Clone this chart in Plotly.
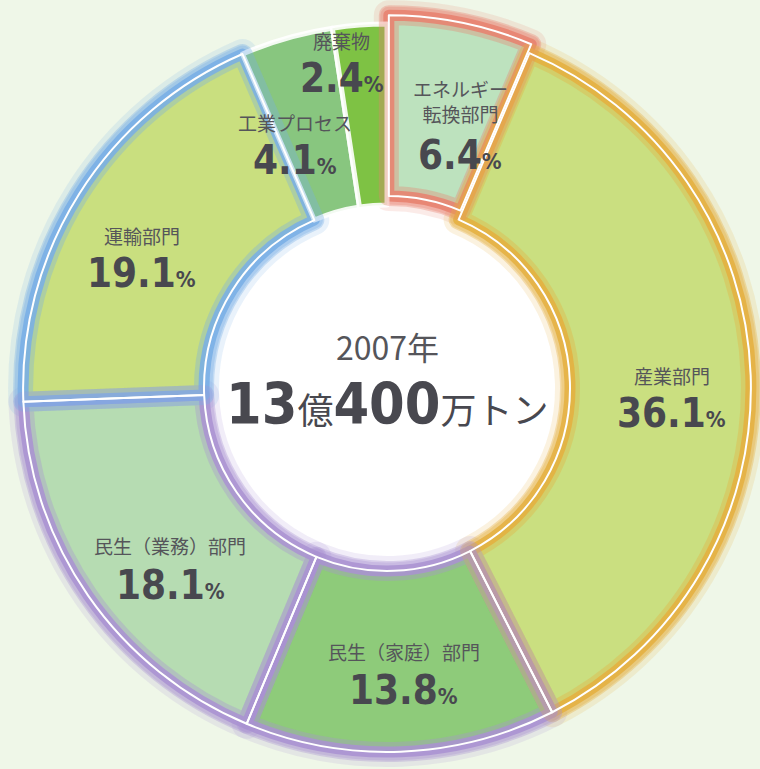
import math
import plotly.graph_objects as go

# ---------------- data ----------------
sectors = ["エネルギー転換部門", "産業部門", "民生（家庭）部門", "民生（業務）部門",
           "運輸部門", "工業プロセス", "廃棄物"]
sector_labels = ["エネルギー<br>転換部門", "産業部門", "民生（家庭）部門", "民生（業務）部門",
                 "運輸部門", "工業プロセス", "廃棄物"]
shares = [6.4, 36.1, 13.8, 18.1, 19.1, 4.1, 2.4]
year_text = "2007年"
total_parts = ["13", "億", "400", "万トン"]

# ---------------- style ----------------
W, H = 760, 769
CX, CY = 387, 388          # pie centre in pixels (from top-left)
HALF = 373                 # domain half-size in px
PULL = [0.025, 0, 0, 0, 0, 0, 0]
R = HALF / (1 + max(PULL))
HOLE_PX = 183

fills = ["#bde2be", "#cadf80", "#8ecb7a", "#b6dcb2", "#c9df7f", "#88c67f", "#7ec244"]
glow_rgb = [(233, 128, 111), (228, 176, 63), (170, 146, 210), (170, 146, 210),
            (120, 174, 230), None, None]
bg = "#eff7e8"
num_font = "Liberation Sans Narrow, DejaVu Sans Condensed, Arial Narrow, sans-serif"
jp_font = "Noto Sans CJK JP, sans-serif"
text_col = "#55555a"
num_col = "#48484f"

# label placement (polar, relative to slice mid-angle)
label_r = [244, 286, 302, 293, 271, 246, 313]
label_dang = [6, 7, -1, -7.5, -7, -6, -4]
name_shift = [54, 38, 38, 39, 37, 37, 38]


def rgba(c, a):
    if c is None:
        return "rgba(255,255,255,0)"
    return "rgba(%d,%d,%d,%.2f)" % (c[0], c[1], c[2], a)


dom_x = [(CX - HALF) / W, min(1.0, (CX + HALF) / W)]
dom_y = [((H - CY) - HALF) / H, ((H - CY) + HALF) / H]
hole = HOLE_PX / R

fig = go.Figure()

# white centre disc (under the ring)
disc_r = HOLE_PX + 4
fig.add_trace(go.Pie(
    values=[1], marker=dict(colors=["#ffffff"], line=dict(width=0)),
    domain=dict(x=[(CX - disc_r) / W, (CX + disc_r) / W],
                y=[((H - CY) - disc_r) / H, ((H - CY) + disc_r) / H]),
    textinfo="none", hoverinfo="skip", sort=False, showlegend=False))


def ring(colors, line_colors, line_widths):
    fig.add_trace(go.Pie(
        labels=sectors, values=shares, sort=False, direction="clockwise", rotation=0,
        hole=hole, pull=PULL, domain=dict(x=dom_x, y=dom_y),
        marker=dict(colors=colors, line=dict(color=line_colors, width=line_widths)),
        textinfo="none", hoverinfo="skip", showlegend=False))


# outer soft halo
ring([rgba(g, 0.0) for g in glow_rgb],
     [rgba(g, 0.16) for g in glow_rgb],
     [30 if g else 0 for g in glow_rgb])
ring([rgba(g, 0.0) for g in glow_rgb],
     [rgba(g, 0.32) for g in glow_rgb],
     [17 if g else 0 for g in glow_rgb])
# body with coloured inner band
ring(fills,
     [rgba(g, 0.85) if g else "rgba(255,255,255,0.9)" for g in glow_rgb],
     [11 if g else 5 for g in glow_rgb])
# softer inner transition
ring(["rgba(0,0,0,0)"] * len(shares),
     [rgba(g, 0.35) if g else "rgba(0,0,0,0)" for g in glow_rgb],
     [20 if g else 0 for g in glow_rgb])
# white outline
ring(["rgba(0,0,0,0)"] * len(shares),
     ["#ffffff" if g else "rgba(0,0,0,0)" for g in glow_rgb],
     [2 if g else 0 for g in glow_rgb])

# ---------------- labels ----------------
annotations = []
total = sum(shares)
cum = 0.0
for i, (lab, v) in enumerate(zip(sector_labels, shares)):
    mid = (cum + v / 2) / total * 360.0
    cum += v
    ang = math.radians(mid + label_dang[i])
    px = CX + label_r[i] * math.sin(ang)
    py = CY - label_r[i] * math.cos(ang)
    xp, yp = px / W, 1 - py / H
    annotations.append(dict(
        x=xp, y=yp, xref="paper", yref="paper", showarrow=False,
        text=("<b>%s</b><span style='font-size:22px'><b>%%</b></span>" % v),
        font=dict(family=num_font, size=40, color=num_col),
        xanchor="center", yanchor="middle"))
    annotations.append(dict(
        x=xp, y=yp, xref="paper", yref="paper", showarrow=False,
        text=lab, yshift=name_shift[i],
        font=dict(family=jp_font, size=19, color=text_col),
        xanchor="center", yanchor="middle"))

# centre text
annotations.append(dict(
    x=CX / W, y=1 - CY / H, xref="paper", yref="paper", showarrow=False,
    text=year_text, yshift=42,
    font=dict(family=jp_font, size=32, color=text_col)))
annotations.append(dict(
    x=CX / W, y=1 - CY / H, xref="paper", yref="paper", showarrow=False,
    text=("<span style='font-family:%s;font-size:57px'><b>%s</b></span>%s"
          "<span style='font-family:%s;font-size:57px'><b>%s</b></span>%s")
    % (num_font, total_parts[0], total_parts[1], num_font, total_parts[2], total_parts[3]),
    yshift=-16,
    font=dict(family=jp_font, size=36, color=num_col)))

fig.update_layout(
    width=W, height=H, margin=dict(l=0, r=0, t=0, b=0),
    paper_bgcolor=bg, plot_bgcolor=bg, showlegend=False,
    annotations=annotations)

fig.write_html(
    "out.html",
    config={"displayModeBar": False},
    post_script="document.body.style.margin='0';document.body.style.background='%s';" % bg)
